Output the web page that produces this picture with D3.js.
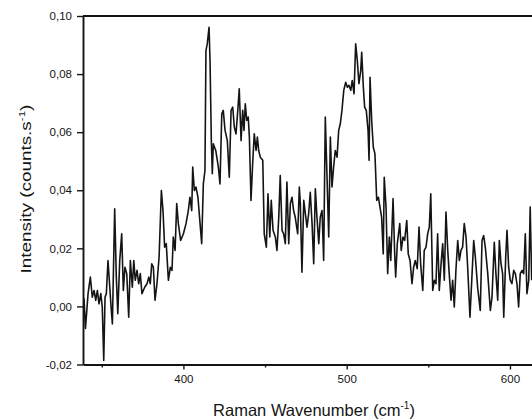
<!DOCTYPE html>
<html><head><meta charset="utf-8">
<script src="https://cdn.jsdelivr.net/npm/d3@7"></script>
<style>body{margin:0;background:#fff;} svg{display:block;}</style>
</head><body>
<svg id="chart" width="532" height="420"></svg>
<script>
const wavenumber = [
339.1,340.0,341.6,343.0,344.2,345.3,346.3,347.3,348.3,349.4,
350.3,351.2,352.0,352.8,353.8,354.9,355.7,356.5,357.9,358.9,
359.8,361.0,362.2,363.2,364.2,365.3,366.5,367.5,368.7,369.6,
370.5,371.6,372.6,373.6,374.6,376.3,377.7,378.8,379.7,380.6,
381.6,382.6,383.8,385.1,386.5,387.5,388.5,389.5,390.8,392.0,
393.0,393.8,394.9,395.9,396.9,398.3,400.0,401.6,403.0,404.0,
405.1,405.7,406.7,407.7,408.9,410.2,411.2,412.2,413.2,413.8,
414.6,415.7,416.3,417.1,417.7,418.3,419.8,421.4,422.4,423.5,
424.4,425.5,426.9,428.1,429.2,430.2,431.2,432.2,433.3,434.2,
435.3,436.3,437.1,437.9,438.8,439.7,440.4,441.4,442.4,443.4,
444.5,445.3,446.1,447.1,448.6,449.5,450.8,451.8,452.9,453.8,
454.9,456.3,457.3,458.4,459.3,460.4,461.4,462.4,463.4,464.5,
465.5,466.5,467.5,468.5,470.0,471.0,471.6,472.6,473.7,474.7,
475.7,476.7,477.7,478.8,479.8,480.8,481.8,482.9,483.8,484.9,
485.9,486.9,487.9,489.0,490.0,491.0,492.0,493.0,494.1,495.1,
496.1,497.1,498.2,499.4,500.4,501.4,502.5,503.4,504.5,505.5,
506.5,507.5,508.6,509.2,510.2,511.0,512.0,513.1,513.7,514.3,
515.3,516.3,517.3,518.4,519.4,520.4,521.4,522.4,523.0,524.1,
525.1,526.1,527.0,528.4,529.4,530.0,531.0,532.5,533.4,534.5,
535.5,536.8,537.7,538.8,540.0,541.0,542.0,543.2,544.3,545.3,
546.6,547.5,548.6,549.6,550.6,551.5,552.7,553.7,554.7,555.7,
556.7,557.8,558.8,559.8,560.8,561.9,562.8,563.9,564.9,565.9,
566.9,568.0,569.0,570.0,571.0,572.0,573.1,574.1,575.5,576.6,
577.8,578.8,580.2,581.8,582.9,583.9,584.9,586.4,588.0,589.0,
590.4,591.4,592.5,593.5,594.5,595.5,596.2,597.4,598.2,599.2,
600.2,601.2,602.3,603.3,604.3,605.3,606.3,607.4,608.4,609.4,
610.4,611.5,612.4,613.3
];
const intensity = [
0.0028,-0.0076,0.0044,0.0101,0.0032,0.0055,0.0021,0.0055,0.0009,0.0044,
-0.0002,-0.0186,0.0032,0.0044,0.0158,0.0066,-0.0002,-0.0060,0.0336,0.0101,
-0.0025,0.0158,0.0250,0.0055,0.0135,0.0113,-0.0037,0.0158,0.0066,0.0158,
0.0090,0.0124,0.0078,0.0113,0.0044,0.0066,0.0078,0.0101,0.0078,0.0147,
0.0135,0.0021,0.0078,0.0170,0.0399,0.0330,0.0204,0.0216,0.0090,0.0135,
0.0124,0.0239,0.0193,0.0354,0.0285,0.0227,0.0250,0.0285,0.0330,0.0376,
0.0330,0.0480,0.0399,0.0411,0.0376,0.0285,0.0216,0.0422,0.0468,0.0881,
0.0904,0.0961,0.0847,0.0571,0.0457,0.0560,0.0537,0.0480,0.0422,0.0663,
0.0675,0.0606,0.0571,0.0445,0.0675,0.0686,0.0617,0.0594,0.0675,0.0749,
0.0571,0.0675,0.0606,0.0698,0.0640,0.0652,0.0583,0.0365,0.0491,0.0594,
0.0537,0.0583,0.0537,0.0514,0.0503,0.0250,0.0204,0.0388,0.0239,0.0365,
0.0262,0.0239,0.0193,0.0307,0.0451,0.0262,0.0250,0.0216,0.0428,0.0216,
0.0354,0.0376,0.0330,0.0307,0.0250,0.0411,0.0354,0.0118,0.0365,0.0319,
0.0273,0.0319,0.0393,0.0285,0.0147,0.0405,0.0307,0.0216,0.0307,0.0330,
0.0158,0.0652,0.0457,0.0239,0.0583,0.0411,0.0480,0.0537,0.0514,0.0606,
0.0629,0.0675,0.0744,0.0772,0.0755,0.0761,0.0744,0.0778,0.0732,0.0904,
0.0847,0.0767,0.0812,0.0875,0.0755,0.0686,0.0675,0.0606,0.0503,0.0789,
0.0640,0.0548,0.0526,0.0365,0.0376,0.0342,0.0307,0.0181,0.0445,0.0342,
0.0113,0.0239,0.0158,0.0371,0.0181,0.0101,0.0216,0.0285,0.0193,0.0239,
0.0227,0.0296,0.0181,0.0158,0.0078,0.0135,0.0158,0.0130,0.0273,0.0147,
0.0055,0.0193,0.0204,0.0250,0.0273,0.0388,0.0055,0.0090,0.0078,0.0250,
0.0055,0.0147,0.0216,0.0090,0.0325,0.0193,0.0113,0.0021,0.0090,-0.0002,
0.0124,0.0227,0.0158,0.0193,0.0204,0.0285,0.0239,0.0135,-0.0037,0.0090,
0.0227,0.0170,0.0066,-0.0014,0.0227,0.0244,0.0204,0.0113,-0.0014,0.0032,
0.0221,0.0113,0.0021,0.0227,0.0147,0.0113,-0.0037,0.0170,0.0262,0.0135,
0.0090,0.0078,0.0124,0.0113,0.0078,-0.0002,0.0113,0.0124,0.0113,0.0250,
0.0044,0.0090,0.0342,0.0090
];
const xMajorTicks = [400, 500, 600];
const xMinorTicks = [350, 450, 550];
const yTicks = [-0.02, 0.00, 0.02, 0.04, 0.06, 0.08, 0.10];
const xDomain = [338.5, 613.5];
const yDomain = [-0.02, 0.10];
const xTitle = "Raman Wavenumber (cm";
const yTitle = "Intensity (counts.s";
const supText = "-1";

(function () {
const svg = d3.select("#chart");
const pL = 83, pR = 532, pT = 16, pB = 364.5;
const x = d3.scaleLinear().domain(xDomain).range([pL, pR]);
const y = d3.scaleLinear().domain(yDomain).range([pB, pT]);
const font = "'Liberation Sans', Arial, sans-serif";
const ink = "#141414";
const loc = d3.formatLocale({decimal: ",", thousands: ".", grouping: [3], currency: ["", ""], minus: "-"});
const yFmt = loc.format(".2f");

svg.append("clipPath").attr("id", "clip").append("rect")
  .attr("x", pL).attr("y", pT).attr("width", pR - pL).attr("height", pB - pT);

const data = d3.zip(wavenumber, intensity);
svg.append("path").datum(data)
  .attr("clip-path", "url(#clip)")
  .attr("fill", "none").attr("stroke", ink).attr("stroke-width", 1.6)
  .attr("stroke-linejoin", "round")
  .attr("d", d3.line().x(d => x(d[0])).y(d => y(d[1])));

svg.append("line").attr("x1", pL).attr("x2", pR).attr("y1", pT).attr("y2", pT)
  .attr("stroke", ink).attr("stroke-width", 1.8);

svg.append("g").attr("transform", `translate(0,${pB})`)
  .call(d3.axisBottom(x).tickValues(xMajorTicks).tickSize(5).tickSizeOuter(0).tickPadding(5).tickFormat(d3.format("d")));
svg.append("g").attr("transform", `translate(0,${pB})`)
  .call(d3.axisBottom(x).tickValues(xMinorTicks).tickSize(3).tickSizeOuter(0).tickFormat(""))
  .select(".domain").remove();
svg.append("g").attr("transform", `translate(${pL},0)`)
  .call(d3.axisLeft(y).tickValues(yTicks).tickSize(6).tickSizeOuter(0).tickPadding(5).tickFormat(yFmt));

svg.selectAll(".domain").attr("stroke", ink).attr("stroke-width", 1.9);
svg.selectAll(".tick line").attr("stroke", ink).attr("stroke-width", 1.4);
svg.selectAll(".tick text").attr("fill", ink).style("font-family", font).style("font-size", "11.5px");

const xt = svg.append("text").attr("x", 314).attr("y", 416).attr("text-anchor", "middle")
  .style("font-family", font).style("font-size", "16.5px").attr("fill", ink);
xt.append("tspan").text(xTitle);
xt.append("tspan").attr("dy", -7).style("font-size", "10px").text(supText);
xt.append("tspan").attr("dy", 7).text(")");

const yt = svg.append("text").attr("transform", "translate(31,189) rotate(-90) scale(1.22,1)")
  .attr("text-anchor", "middle")
  .style("font-family", font).style("font-size", "15.5px").attr("fill", ink);
yt.append("tspan").text(yTitle);
yt.append("tspan").attr("dy", -6).style("font-size", "9.5px").text(supText);
yt.append("tspan").attr("dy", 6).text(")");
})();
</script>
</body></html>
